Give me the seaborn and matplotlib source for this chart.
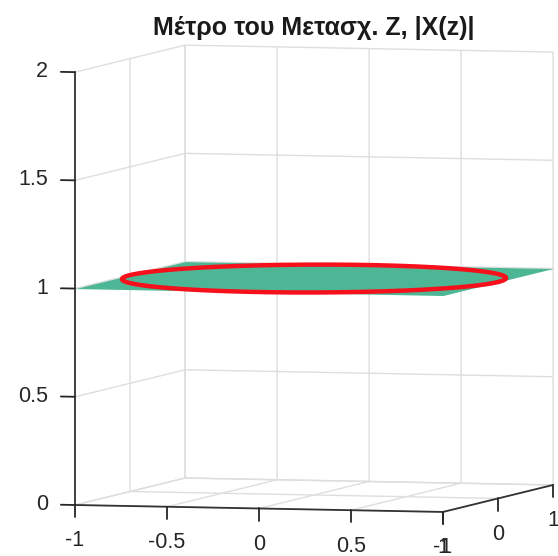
import numpy as np
import matplotlib
matplotlib.use("Agg")
import matplotlib.pyplot as plt
import seaborn as sns
from mpl_toolkits.mplot3d import proj3d

# z-plane grid (real / imaginary part) and |X(z)| over it
re_axis = [-1.0, 1.0]
im_axis = [-1.0, 1.0]
magnitude = [[1.0, 1.0],
             [1.0, 1.0]]
unit_circle_mag = 1.0          # |X(z)| evaluated on |z| = 1

x_ticks = [-1, -0.5, 0, 0.5, 1]
x_tick_labels = ["-1", "-0.5", "0", "0.5", "1"]
y_ticks = [-1, 0, 1]
y_tick_labels = ["-1", "0", "1"]
z_ticks = [0, 0.5, 1, 1.5, 2]
z_tick_labels = ["0", "0.5", "1", "1.5", "2"]

title_text = "Μέτρο του Μετασχ. Z, |X(z)|"
z_label_text = "|X(z)|"

# styling
surface_color = "#4db795"
circle_color = "#f5101c"
grid_color = "#dedede"
axis_color = "#333333"
text_color = "#262626"

sns.set_theme(style="white")
plt.rcParams["font.family"] = ["Liberation Sans", "DejaVu Sans"]
plt.rcParams["axes.unicode_minus"] = False
plt.rcParams["grid.color"] = grid_color
plt.rcParams["grid.linewidth"] = 1.0
plt.rcParams["grid.linestyle"] = "-"

W, H, DPI = 558, 556, 100
fig = plt.figure(figsize=(W / DPI, H / DPI), dpi=DPI)
fig.patch.set_facecolor("white")
ax = fig.add_axes([0.1, 0.1, 0.8, 0.8], projection="3d", computed_zorder=False)
ax.set_proj_type("ortho")
ax.view_init(elev=3.9, azim=-74.5)
ax.set_box_aspect((191, 206, 217))
ax.set_xlim(-1, 1)
ax.set_ylim(-1, 1)
ax.set_zlim(0, 2)
ax.grid(True)

# magnitude surface and the unit circle on top of it
RE, IM = np.meshgrid(re_axis, im_axis)
ax.plot_surface(RE, IM, np.array(magnitude), color=surface_color, shade=False,
                linewidth=0, antialiased=True, zorder=1)
theta = np.linspace(0, 2 * np.pi, 721)
ax.plot(np.cos(theta), np.sin(theta), np.full_like(theta, unit_circle_mag),
        color=circle_color, lw=3.2, zorder=2, solid_capstyle="round")

# ticks
ax.set_xticks(x_ticks, x_tick_labels, ha="center", va="center")
ax.set_yticks(y_ticks, y_tick_labels, ha="center", va="center")
ax.set_zticks(z_ticks, z_tick_labels, ha="right", va="center")
for a in ("x", "y", "z"):
    ax.tick_params(axis=a, labelsize=15.5, colors=text_color)
ax.set_xlabel("")
ax.set_ylabel("")
ax.set_zlabel("")

# z axis on the front-left edge, ticks pointing outward in screen-friendly directions
ax.zaxis.set_ticks_position("lower")
ax.xaxis._get_tickdir = lambda position: 2
ax.yaxis._get_tickdir = lambda position: 2
ax.zaxis._get_tickdir = lambda position: 0
ax.xaxis._axmask = lambda: [False, False, True]
ax.yaxis._axmask = lambda: [False, False, True]
ax.zaxis._axmask = lambda: [True, False, False]

tick_len = {"x": 0.35, "y": 0.35, "z": 0.48}
for name, axis in (("x", ax.xaxis), ("y", ax.yaxis), ("z", ax.zaxis)):
    axis.set_pane_color((1, 1, 1, 0))
    axis.pane.set_edgecolor(grid_color)
    axis.pane.set_linewidth(1.0)
    axis.line.set_color(axis_color)
    axis.line.set_linewidth(1.3)
    axis._axinfo["tick"]["inward_factor"] = 0.0
    axis._axinfo["tick"]["outward_factor"] = tick_len[name]
    axis._axinfo["tick"]["linewidth"] = {True: 1.3, False: 0.8}
    axis._axinfo["tick"]["color"] = axis_color
    axis._axinfo["grid"]["color"] = grid_color
    axis._axinfo["grid"]["linewidth"] = 1.0

# place the axes box: front-left-bottom corner and back-right-top corner
anchor_pts = [(-1, -1, 0), (1, 1, 2)]
anchor_px = [(75, H - 505), (553, H - 52)]


def project(p):
    x2, y2, _ = proj3d.proj_transform(*p, ax.M)
    return ax.transData.transform((x2, y2))


for _ in range(4):
    fig.canvas.draw()
    bb = ax.get_position()
    x0, y0, w, h = bb.x0 * W, bb.y0 * H, bb.width * W, bb.height * H
    pa, pg = project(anchor_pts[0]), project(anchor_pts[1])
    ta, tg = np.array(anchor_px[0], float), np.array(anchor_px[1], float)
    s = np.linalg.norm(tg - ta) / np.linalg.norm(pg - pa)
    fx, fy = (pa[0] - x0) / w, (pa[1] - y0) / h
    w2, h2 = w * s, h * s
    nx0, ny0 = ta[0] - fx * w2, ta[1] - fy * h2
    ax.set_position([nx0 / W, ny0 / H, w2 / W, h2 / H])

# tick-label distances from the axis lines (pixels)
fig.canvas.draw()
bb = ax.get_position()
ax_pts = 72.0 * (bb.width * W + bb.height * H) / DPI
data_per_pt = 48.0 / ax_pts * 2 * 0.08
px_z = np.linalg.norm(project((-1, -1, 1)) - project((-1, -1, 0)))
px_x = np.linalg.norm(project((0, -1, 0)) - project((-1, -1, 0)))
ax.tick_params(axis="x", pad=36 / (data_per_pt * px_z) - 8)
ax.tick_params(axis="y", pad=36 / (data_per_pt * px_z) - 8)
ax.tick_params(axis="z", pad=27 / (data_per_pt * px_x) - 8)

# title and z label
cx = 0.5 * (anchor_px[0][0] + anchor_px[1][0]) / W
fig.text(cx, 1 - 28 / H, title_text, ha="center", va="center",
         fontsize=18, fontweight="bold", color="#1a1a1a")
fig.text(-2.5 / W, 1 - 288 / H, z_label_text, rotation=90, ha="right",
         va="center", fontsize=15, color=text_color)

fig.savefig("out.png", dpi=DPI)
